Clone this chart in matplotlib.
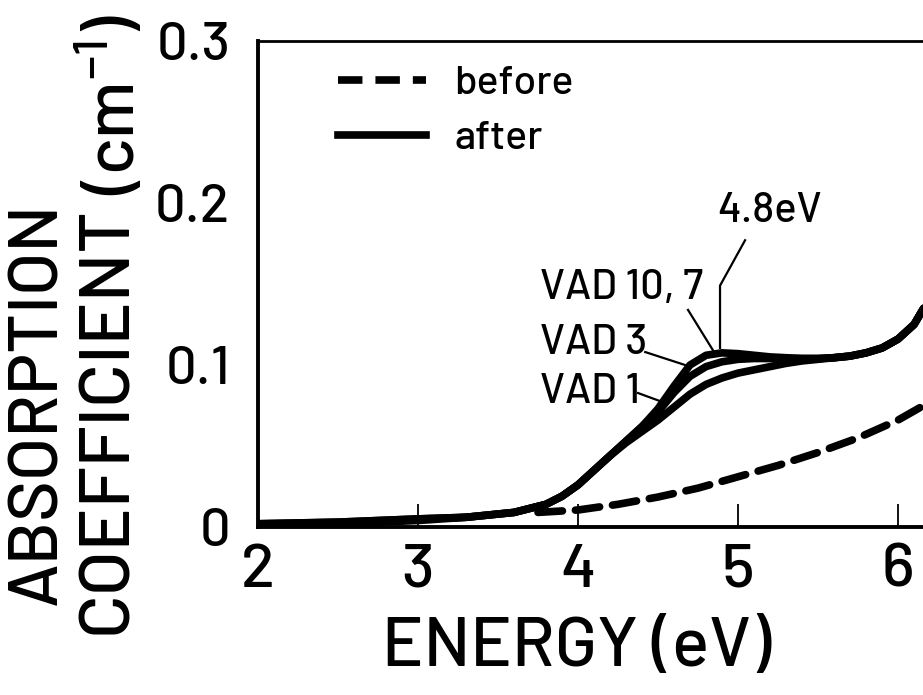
import matplotlib
matplotlib.use("Agg")
import matplotlib.pyplot as plt

# --- data ---
energy_after = [2.0, 2.5, 3.0, 3.3, 3.6, 3.8, 3.9, 4.0, 4.1, 4.2, 4.3, 4.4, 4.5, 4.6, 4.7,
                4.8, 4.9, 5.0, 5.1, 5.2, 5.3, 5.4, 5.5, 5.6, 5.7, 5.8, 5.9, 6.0, 6.1, 6.16]
vad10_7 = [0.002, 0.003, 0.005, 0.006, 0.009, 0.014, 0.019, 0.026, 0.035, 0.044, 0.053, 0.062,
           0.073, 0.087, 0.100, 0.106, 0.1075, 0.107, 0.106, 0.105, 0.1045, 0.104, 0.104, 0.1045,
           0.1055, 0.1075, 0.1105, 0.116, 0.125, 0.135]
vad3 = [0.002, 0.003, 0.005, 0.006, 0.009, 0.014, 0.019, 0.026, 0.035, 0.044, 0.053, 0.062,
        0.071, 0.083, 0.093, 0.099, 0.102, 0.1035, 0.104, 0.104, 0.104, 0.104, 0.104, 0.1045,
        0.1055, 0.1075, 0.1105, 0.116, 0.125, 0.135]
vad1 = [0.001, 0.002, 0.004, 0.006, 0.009, 0.014, 0.019, 0.026, 0.035, 0.044, 0.052, 0.059,
        0.066, 0.074, 0.082, 0.088, 0.092, 0.095, 0.097, 0.099, 0.101, 0.1025, 0.1035, 0.1045,
        0.1055, 0.1075, 0.1105, 0.116, 0.125, 0.135]

energy_before = [3.75, 4.0, 4.25, 4.5, 4.75, 5.0, 5.25, 5.5, 5.75, 6.0, 6.16]
before = [0.009, 0.0105, 0.014, 0.0185, 0.024, 0.031, 0.038, 0.046, 0.055, 0.066, 0.075]

x_ticks = [2, 3, 4, 5, 6]
y_ticks = [0, 0.1, 0.2, 0.3]
y_ticklabels = ["0", "0.1", "0.2", "0.3"]

FONT = ["Barlow", "DejaVu Sans"]
plt.rcParams["font.family"] = FONT
plt.rcParams["font.weight"] = "medium"
plt.rcParams["axes.labelweight"] = "medium"
plt.rcParams["mathtext.fontset"] = "custom"
plt.rcParams["mathtext.rm"] = "Barlow:medium"

W, H = 923, 695
fig = plt.figure(figsize=(W / 100, H / 100), dpi=100)
ax = fig.add_axes([258 / W, 168 / H, 665 / W, 486 / H])

lw = 5.5
for y in [vad1, vad3, vad10_7]:
    ax.plot(energy_after, y, color="black", lw=lw, solid_capstyle="round", solid_joinstyle="round")
ax.plot(energy_before, before, color="black", lw=lw, linestyle=(0, (3.2, 1.7)),
        dash_capstyle="round")

# legend proxies
ax.plot([], [], color="black", lw=lw, linestyle=(0, (3.2, 1.7)), label="before")
ax.plot([], [], color="black", lw=lw, label="after")
h, l = ax.get_legend_handles_labels()
ax.legend(h[-2:], l[-2:], loc="upper left", bbox_to_anchor=(0.12, 0.95), frameon=False,
          fontsize=29.5, handlelength=2.15, handletextpad=0.7, labelspacing=0.45,
          borderpad=0, borderaxespad=0)

ax.set_xlim(2, 6.156)
ax.set_ylim(0, 0.3)
ax.set_xticks(x_ticks)
ax.set_xticklabels([str(t) for t in x_ticks])
ax.set_yticks(y_ticks)
ax.set_yticklabels(y_ticklabels)
ax.tick_params(axis="x", direction="in", length=16.5, width=1.3, labelsize=45, pad=12)
ax.tick_params(axis="y", length=0, labelsize=39, pad=20)
ax.spines["right"].set_visible(False)
for s in ["left", "bottom"]:
    ax.spines[s].set_linewidth(2.8)
ax.spines["top"].set_linewidth(2.0)

# annotations
fs = 30
ax.text(3.76, 0.1475, "VAD 10, 7", fontsize=fs, ha="left", va="center")
ax.text(3.76, 0.1136, "VAD 3", fontsize=fs, ha="left", va="center")
ax.text(3.76, 0.0833, "VAD 1", fontsize=fs, ha="left", va="center")
ax.text(4.87, 0.195, "4.8eV", fontsize=30, ha="left", va="center")
ax.plot([4.6875, 4.844], [0.134, 0.109], color="black", lw=1.6)
ax.plot([4.42, 4.6875], [0.108, 0.0994], color="black", lw=1.6)
ax.plot([4.375, 4.51], [0.0827, 0.0778], color="black", lw=1.6)
ax.plot([5.044, 4.8875, 4.8875], [0.177, 0.149, 0.1105], color="black", lw=1.6)

fig.text(38 / W, 1 - 403 / H, "ABSORPTION", rotation=90, ha="center", va="center", fontsize=50)
fig.text(108 / W, 1 - 420 / H, "COEFFICIENT", rotation=90, ha="center", va="center",
         fontsize=52)
fig.text(112 / W, 1 - 105 / H, r"(cm$^{-1}$)", rotation=90, ha="center", va="center",
         fontsize=50)
ax.set_xlabel("ENERGY (eV)", fontsize=50, labelpad=14)
ax.xaxis.set_label_coords((577 - 258) / 665, -0.185)

fig.savefig("out.png", dpi=100)
